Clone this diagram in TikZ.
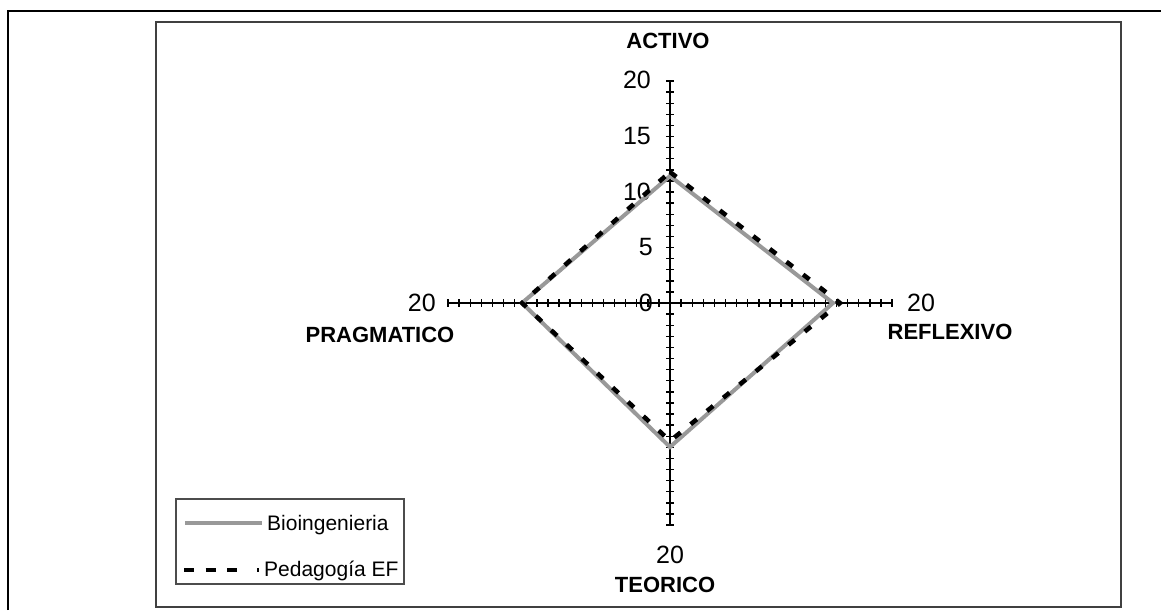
\documentclass[tikz,border=0pt]{standalone}
\usepackage{fontspec}
\setmainfont{Liberation Sans}
\begin{document}
\begin{tikzpicture}[x=1pt,y=-1pt,
  frameline/.style={line width=2.5pt, draw=black},
  chartframe/.style={line width=2pt, draw=black!75},
  axisline/.style={line width=1.4pt, draw=black},
  tickmark/.style={line width=1.4pt, draw=black},
  ticklabel/.style={font=\fontsize{25}{30}\selectfont, inner sep=0pt},
  catlabel/.style={font=\fontsize{22}{26}\selectfont\bfseries, inner sep=0pt},
  legendtext/.style={font=\fontsize{21}{25}\selectfont, inner sep=0pt, anchor=base west},
  legendbox/.style={line width=1.3pt, draw=black!70},
  bioline/.style={line width=4pt, draw=black!40},
  pedline/.style={line width=4.5pt, draw=black, dash pattern=on 8pt off 13pt},
]
\useasboundingbox (0,0) rectangle (1161,610);
\fill[white] (0,0) rectangle (1161,610);
% frames
\draw[frameline] (8,610) -- (8,11) -- (1161,11);
\draw[chartframe] (156,22) rectangle (1121,607);
% axes
\coordinate (c) at (670,303);
\coordinate (top) at (670,81);
\coordinate (bot) at (670,525);
\coordinate (lft) at (448,303);
\coordinate (rgt) at (892,303);
\draw[axisline] (top) -- (bot);
\draw[axisline] (lft) -- (rgt);
\foreach \k in {1,...,20} {
  \draw[tickmark] ([shift={(-4,-11.1*\k)}]c) -- ([shift={(4,-11.1*\k)}]c);
  \draw[tickmark] ([shift={(-4,11.1*\k)}]c) -- ([shift={(4,11.1*\k)}]c);
  \draw[tickmark] ([shift={(-11.1*\k,-4)}]c) -- ([shift={(-11.1*\k,4)}]c);
  \draw[tickmark] ([shift={(11.1*\k,-4)}]c) -- ([shift={(11.1*\k,4)}]c);
}
% tick labels
\node[ticklabel, anchor=east] (v0) at (653,303) {0};
\node[ticklabel, anchor=east] (v5) at (653,247.5) {5};
\node[ticklabel, anchor=east] (v10) at (651,192) {10};
\node[ticklabel, anchor=east] (v15) at (651,136.5) {15};
\node[ticklabel, anchor=east] (v20) at (651,80) {20};
\node[ticklabel, anchor=east] (l20) at (436,303) {20};
\node[ticklabel, anchor=west] (r20) at (907,303) {20};
\node[ticklabel] (b20) at (670,555) {20};
% category labels
\node[catlabel] (activo) at (668,41) {ACTIVO};
\node[catlabel] (reflexivo) at (950,332) {REFLEXIVO};
\node[catlabel] (teorico) at (665,585) {TEORICO};
\node[catlabel] (pragmatico) at (380,335) {PRAGMATICO};
% series
\coordinate (b1) at (670,176);
\coordinate (b2) at (833,303);
\coordinate (b3) at (670,447);
\coordinate (b4) at (522,303);
\draw[bioline] (b1) -- (b2) -- (b3) -- (b4) -- cycle;
\coordinate (p1) at (670,172);
\coordinate (p2) at (840,303);
\coordinate (p3) at (670,441);
\coordinate (p4) at (522,303);
\draw[pedline] (p1) -- (p2) -- (p3) -- (p4) -- cycle;
% legend
\draw[legendbox] (176,499) rectangle (404,584);
\coordinate (lb1) at (185,523);
\coordinate (lb2) at (262,523);
\draw[bioline] (lb1) -- (lb2);
\node[legendtext] (lbt) at (267,530) {Bioingenieria};
\coordinate (lp1) at (184,570);
\coordinate (lp2) at (261,570);
\draw[pedline, dash pattern=on 10pt off 11.5pt on 10pt off 11.5pt on 10pt off 20pt on 1.5pt off 20pt] (lp1) -- (lp2);
\node[legendtext] (lpt) at (264,576) {Pedagogía EF};
\end{tikzpicture}
\end{document}
